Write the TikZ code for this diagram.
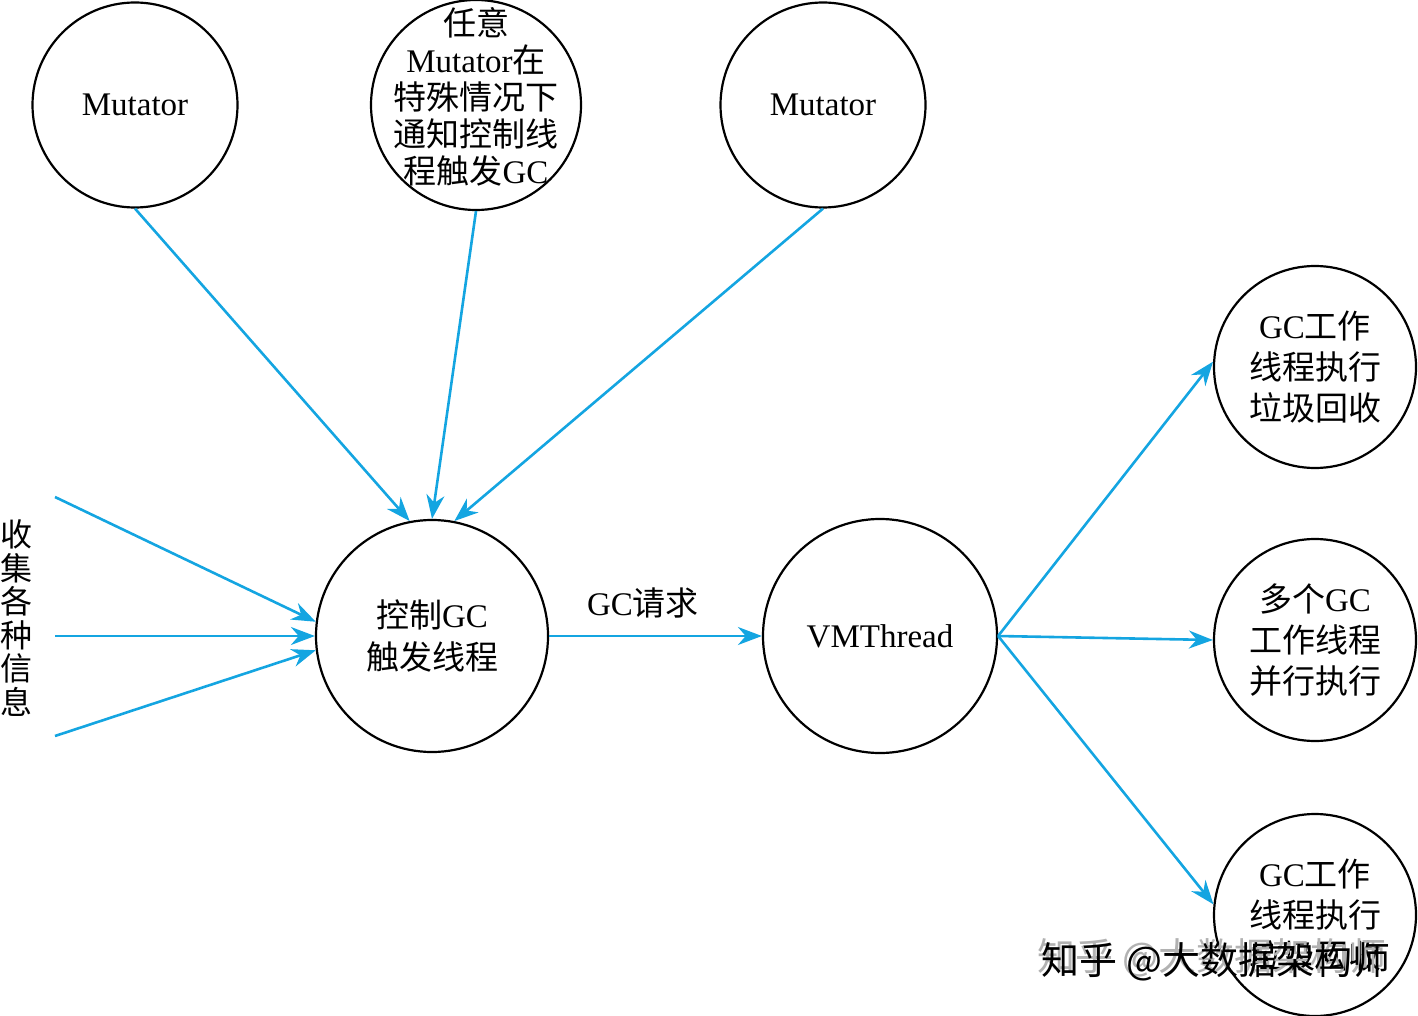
\documentclass[tikz,border=0pt]{standalone}
\usepackage{fontspec}
\setmainfont{Liberation Serif}
\newfontfamily\cjk{Noto Sans CJK SC}
\usetikzlibrary{arrows.meta}
\definecolor{arrowblue}{RGB}{20,165,225}
\begin{document}
\begin{tikzpicture}[x=1pt,y=-1pt,
  circ/.style={circle,draw,line width=2.2pt,inner sep=0pt,align=center,font=\fontsize{33}{37}\selectfont},
  conn/.style={draw=arrowblue,line width=2.6pt,-{Stealth[length=24pt,width=18pt]}},
  lbl/.style={font=\fontsize{33}{37}\selectfont,align=center}]
\useasboundingbox (0,0) rectangle (1418,1016);
\node[circ,minimum size=205pt] (m1) at (135,105) {Mutator};
\node[circ,minimum size=210pt] (mid) at (476,105) {};
\node[lbl] (midtxt) at (476,97) {{\cjk 任意}\\Mutator{\cjk 在}\\{\cjk 特殊情况下}\\{\cjk 通知控制线}\\{\cjk 程触发}GC};
\node[circ,minimum size=205pt] (m3) at (823,105) {Mutator};
\node[circ,minimum size=232pt,font=\fontsize{33}{42}\selectfont] (ctrl) at (432,636) {{\cjk 控制}GC\\{\cjk 触发线程}};
\node[circ,minimum size=234pt] (vm) at (880,636) {VMThread};
\node[circ,minimum size=202pt,font=\fontsize{33}{41}\selectfont] (r1) at (1315,367) {GC{\cjk 工作}\\{\cjk 线程执行}\\{\cjk 垃圾回收}};
\node[circ,minimum size=202pt,font=\fontsize{33}{41}\selectfont] (r2) at (1315,640) {{\cjk 多个}GC\\{\cjk 工作线程}\\{\cjk 并行执行}};
\node[circ,minimum size=202pt,font=\fontsize{33}{41}\selectfont] (r3) at (1315,915) {GC{\cjk 工作}\\{\cjk 线程执行}\\{\cjk 垃圾回收}};
\node[lbl,font=\fontsize{32}{33.5}\selectfont] (info) at (17,618) {\cjk 收\\\cjk 集\\\cjk 各\\\cjk 种\\\cjk 信\\\cjk 息};
\coordinate (s1) at (55,497);
\coordinate (s2) at (55,636);
\coordinate (s3) at (55,736);
\draw[conn] (m1.south) -- (ctrl.101);
\draw[conn] (mid.south) -- (ctrl.north);
\draw[conn] (m3.south) -- (ctrl.79);
\draw[conn] (s1) -- (ctrl.173);
\draw[conn] (s2) -- (ctrl.west);
\draw[conn] (s3) -- (ctrl.187);
\draw[conn] (ctrl.east) -- (vm.west);
\node[lbl] (req) at (643,603) {GC{\cjk 请求}};
\draw[conn] (vm.east) -- (r1.177);
\draw[conn] (vm.east) -- (r2.west);
\draw[conn] (vm.east) -- (r3.174);
\node[font=\fontsize{38}{38}\selectfont\cjk,text=gray!60] (wm2) at (1212,958) {知乎 @大数据架构师};
\node[font=\fontsize{38}{38}\selectfont\cjk,text=black] (wm) at (1216,962) {知乎 @大数据架构师};
\end{tikzpicture}
\end{document}
